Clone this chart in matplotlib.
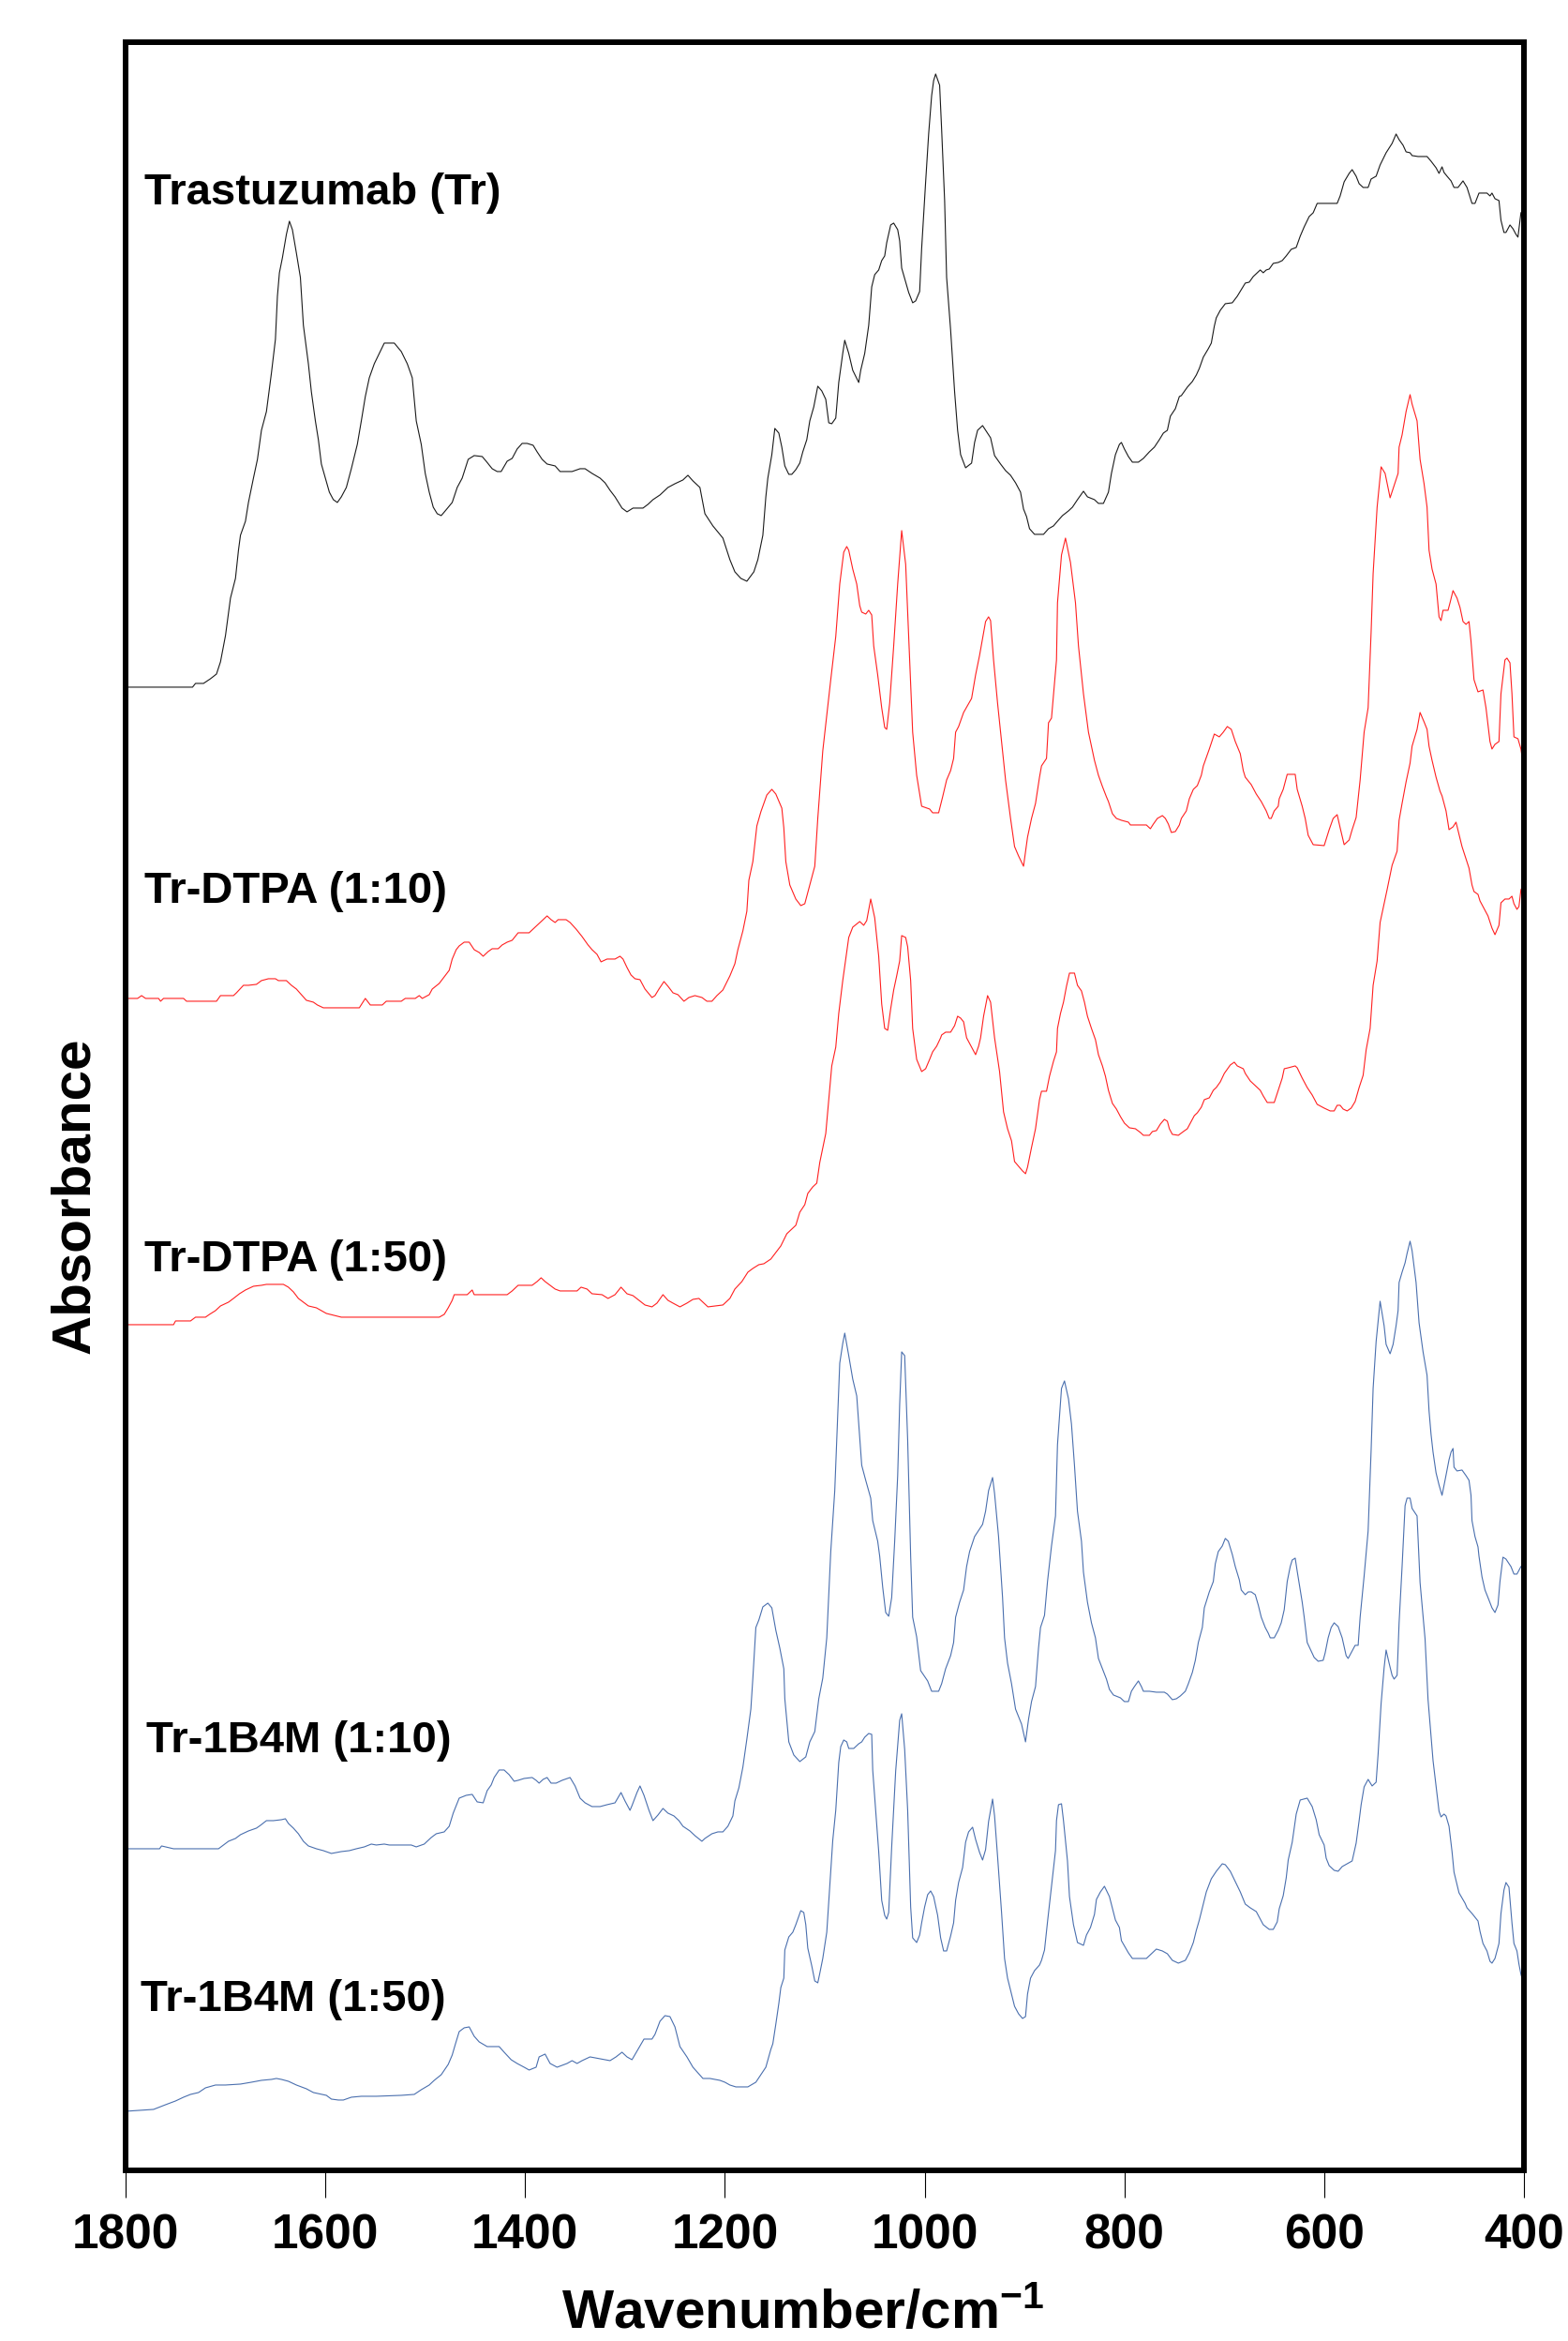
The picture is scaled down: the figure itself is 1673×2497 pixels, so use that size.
import numpy as np
import matplotlib.pyplot as plt

plt.rcParams["font.family"] = ["Liberation Sans", "DejaVu Sans"]
plt.rcParams["font.weight"] = "bold"
plt.rcParams["mathtext.fontset"] = "custom"
plt.rcParams["mathtext.rm"] = "Liberation Sans:bold"
plt.rcParams["mathtext.bf"] = "Liberation Sans:bold"
plt.rcParams["mathtext.default"] = "bf"

# FTIR spectra, (wavenumber cm-1, absorbance a.u. above own baseline)
tr = [(1800,0),(1733,0),(1730,0.04),(1722,0.04),(1715,0.09),(1709,0.14),(1705,0.27),(1700,0.55),(1695,0.95),(1690,1.16),
      (1687,1.46),(1685,1.62),(1680,1.77),(1677,1.97),(1672,2.23),(1668,2.43),(1664,2.74),(1659,2.94),(1654,3.35),(1650,3.71),
      (1648,4.17),(1646,4.42),(1643,4.58),(1639,4.83),(1636,4.97),(1633,4.88),(1629,4.63),(1625,4.37),(1622,3.86),(1617,3.45),
      (1614,3.15),(1610,2.84),(1607,2.64),(1604,2.38),(1600,2.23),(1596,2.08),(1592,2.00),(1588,1.97),(1584,2.03),(1579,2.13),
      (1574,2.33),(1568,2.59),(1564,2.84),(1560,3.10),(1556,3.30),(1551,3.45),(1546,3.56),(1541,3.67),(1531,3.67),(1524,3.58),
      (1518,3.45),(1513,3.30),(1509,2.84),(1504,2.59),(1500,2.28),(1496,2.08),(1492,1.92),(1488,1.85),(1484,1.83),(1480,1.88),
      (1473,1.97),(1468,2.13),(1463,2.23),(1457,2.43),(1451,2.47),(1443,2.46),(1439,2.41),(1433,2.33),(1428,2.30),(1424,2.30),
      (1418,2.41),(1413,2.44),(1408,2.54),(1403,2.60),(1398,2.60),(1392,2.58),(1388,2.51),(1383,2.43),(1378,2.38),(1370,2.36),
      (1365,2.30),(1353,2.30),(1345,2.33),(1340,2.33),(1333,2.28),(1325,2.23),(1320,2.18),(1315,2.10),(1310,2.03),(1303,1.91),
      (1298,1.87),(1292,1.91),(1282,1.91),(1277,1.95),(1272,2.00),(1265,2.05),(1257,2.13),(1250,2.17),(1242,2.21),(1237,2.26),
      (1232,2.20),(1225,2.13),(1220,1.85),(1212,1.72),(1202,1.59),(1195,1.36),(1190,1.23),(1184,1.16),(1178,1.13),
      (1171,1.23),(1167,1.36),(1162,1.62),(1159,2.03),(1157,2.23),(1153,2.48),(1150,2.76),(1146,2.71),(1143,2.56),(1140,2.36),
      (1136,2.27),(1133,2.27),(1129,2.32),(1125,2.39),(1122,2.51),(1118,2.64),(1115,2.84),(1111,2.99),(1107,3.21),(1103,3.16),
      (1099,3.07),(1096,2.82),(1093,2.81),(1089,2.87),(1086,3.25),(1082,3.56),(1080,3.70),(1076,3.56),(1072,3.38),(1066,3.25),
      (1064,3.38),(1060,3.56),(1056,3.86),(1053,4.27),(1050,4.40),(1046,4.45),(1043,4.55),(1040,4.60),(1038,4.74),(1034,4.93),
      (1031,4.95),(1027,4.88),(1025,4.76),(1023,4.47),(1019,4.32),(1016,4.21),(1012,4.10),(1009,4.12),(1005,4.22),(1003,4.68),
      (999,5.39),(996,5.90),(993,6.31),(991,6.47),(989,6.54),(985,6.42),(983,5.95),(980,5.19),(978,4.37),(974,3.81),
      (970,3.15),(967,2.74),(964,2.48),(959,2.34),(953,2.39),(950,2.61),(947,2.74),(942,2.79),(937,2.71),(934,2.66),
      (930,2.47),(924,2.38),(919,2.31),(914,2.26),(909,2.18),(904,2.08),(901,1.90),(898,1.82),(895,1.69),(890,1.63),
      (881,1.63),(876,1.69),(871,1.72),(867,1.77),(862,1.83),(856,1.88),(852,1.92),(847,2.00),(841,2.09),(837,2.03),
      (830,2.00),(826,1.96),(821,1.96),(816,2.08),(813,2.28),(809,2.48),(805,2.59),(803,2.61),(800,2.54),(796,2.46),
      (792,2.40),(786,2.40),(781,2.44),(775,2.51),(770,2.56),(765,2.64),(761,2.71),(757,2.74),(754,2.89),(749,2.97),
      (745,3.10),(743,3.11),(737,3.20),(732,3.26),(728,3.33),(725,3.40),(721,3.52),(716,3.61),(713,3.67),(710,3.85),
      (708,3.94),(704,4.02),(699,4.09),(692,4.10),(687,4.17),(683,4.24),(679,4.31),(675,4.32),(671,4.38),(667,4.42),
      (664,4.45),(661,4.42),(658,4.45),(655,4.46),(651,4.52),(646,4.53),(642,4.55),(638,4.60),(633,4.67),(628,4.69),
      (624,4.81),(620,4.91),(615,5.02),(611,5.06),(607,5.16),(587,5.16),(584,5.24),(580,5.39),(575,5.48),(572,5.52),
      (568,5.45),(565,5.37),(561,5.33),(556,5.33),(553,5.42),(548,5.45),(544,5.57),(538,5.70),(532,5.80),(528,5.90),
      (525,5.84),(521,5.78),(518,5.71),(514,5.70),(512,5.67),(506,5.66),(497,5.66),(493,5.61),(488,5.54),(485,5.48),
      (482,5.55),(480,5.49),(477,5.45),(473,5.40),(470,5.33),(466,5.33),(461,5.40),(457,5.33),(452,5.16),(449,5.16),
      (445,5.27),(437,5.27),(434,5.24),(432,5.27),(429,5.21),(425,5.19),(423,4.98),(420,4.85),(418,4.85),(414,4.93),
      (411,4.89),(408,4.83),(406,4.80),(403,5.06),(400,5.10)]

dtpa10 = [(1800,0),(1788,0),(1784,0.03),(1780,0),(1767,0),(1765,-0.03),(1762,0),(1742,0),(1739,-0.03),(1709,-0.03),
          (1705,0.03),(1692,0.03),(1689,0.06),(1682,0.14),(1677,0.14),(1669,0.15),(1664,0.19),(1657,0.21),(1650,0.21),(1647,0.19),
          (1639,0.19),(1634,0.14),(1629,0.10),(1624,0.04),(1619,-0.02),(1612,-0.04),(1608,-0.07),(1602,-0.10),(1566,-0.10),(1560,0),
          (1555,-0.07),(1543,-0.07),(1539,-0.03),(1524,-0.03),(1520,0),(1510,0),(1506,0.03),(1503,0),(1496,0.04),(1493,0.10),
          (1486,0.16),(1476,0.30),(1473,0.42),(1469,0.52),(1466,0.56),(1461,0.60),(1456,0.60),(1451,0.52),(1446,0.49),(1442,0.45),
          (1437,0.50),(1433,0.53),(1427,0.53),(1423,0.57),(1418,0.60),(1413,0.62),(1407,0.70),(1396,0.70),(1389,0.77),(1383,0.83),
          (1378,0.88),(1374,0.84),(1370,0.81),(1367,0.84),(1359,0.84),(1355,0.81),(1349,0.74),(1343,0.66),(1337,0.57),(1333,0.52),
          (1328,0.47),(1324,0.39),(1318,0.42),(1310,0.42),(1305,0.45),(1302,0.42),(1298,0.33),(1294,0.25),(1290,0.21),(1285,0.20),
          (1280,0.10),(1273,0.01),(1270,0.03),(1266,0.10),(1261,0.18),(1257,0.13),(1252,0.06),(1247,0.04),(1241,-0.03),(1236,0.01),
          (1230,0.03),(1223,0.01),(1218,-0.03),(1213,-0.03),(1208,0.03),(1202,0.09),(1195,0.24),(1190,0.37),(1187,0.52),(1182,0.72),
          (1178,0.93),(1176,1.26),(1172,1.46),(1168,1.84),(1164,1.99),
          (1158,2.17),(1153,2.23),(1149,2.18),(1143,2.03),(1141,1.82),(1139,1.46),(1135,1.21),(1129,1.06),(1124,0.99),(1120,1.01),
          (1117,1.13),(1110,1.41),(1107,1.92),(1102,2.64),(1094,3.40),(1089,3.86),(1085,4.42),(1081,4.76),(1078,4.82),(1076,4.78),
          (1072,4.58),(1068,4.42),(1065,4.19),(1063,4.12),(1059,4.10),(1056,4.14),(1053,4.09),(1051,3.76),(1047,3.45),(1043,3.10),
          (1040,2.89),(1038,2.87),(1035,3.15),(1031,3.76),(1027,4.42),(1023,4.99),(1019,4.63),(1016,3.86),(1012,2.84),(1008,2.38),
          (1003,2.05),(995,2.02),(992,1.98),(986,1.98),(982,2.15),(978,2.33),(974,2.43),(971,2.56),(969,2.84),(966,2.90),
          (961,3.05),(953,3.20),(949,3.45),(945,3.66),(942,3.84),(939,4.02),(936,4.07),(934,4.03),(931,3.61),(927,3.15),
          (923,2.74),(919,2.33),(914,1.92),(910,1.62),(906,1.52),(901,1.41),(897,1.72),(893,1.92),(889,2.08),(885,2.36),
          (883,2.48),(878,2.56),(876,2.94),(873,2.99),(868,3.61),(867,4.22),(863,4.73),(859,4.91),(854,4.65),(849,4.22),
          (846,3.76),(841,3.25),(836,2.84),(830,2.54),(826,2.38),(822,2.26),(818,2.15),(816,2.10),(812,1.97),(808,1.92),
          (803,1.90),(796,1.88),(794,1.85),(778,1.85),(774,1.81),(771,1.86),(767,1.92),(762,1.95),(759,1.92),(756,1.86),
          (753,1.77),(749,1.78),(745,1.85),(743,1.92),(738,2.00),(735,2.13),(731,2.23),(727,2.27),(723,2.38),(721,2.48),
          (715,2.66),(710,2.82),(705,2.79),(701,2.84),(697,2.90),(693,2.87),(689,2.74),(684,2.61),(681,2.43),(679,2.36),
          (673,2.28),(668,2.18),(663,2.10),(658,2.00),(655,1.92),(653,1.92),(650,2.00),(646,2.05),(645,2.13),(641,2.23),
          (637,2.39),(629,2.39),(627,2.23),(622,2.05),(619,1.92),(616,1.74),(611,1.64),(600,1.63),(595,1.80),(591,1.92),
          (587,1.96),(584,1.82),(580,1.64),(575,1.69),(572,1.80),(568,1.93),(564,2.33),(560,2.84),(556,3.10),(553,3.91),
          (551,4.53),(547,5.24),(543,5.67),(539,5.60),(534,5.34),(530,5.47),(526,5.60),(525,5.88),(522,6.01),(518,6.26),
          (514,6.44),(512,6.34),(507,6.16),(504,5.75),(500,5.49),(497,5.24),(495,4.78),(492,4.58),(488,4.42),(485,4.07),
          (483,4.03),(481,4.14),(476,4.14),(474,4.22),(471,4.35),(467,4.27),(464,4.17),(461,4.02),(458,3.99),(455,4.02),
          (453,3.81),(450,3.40),(446,3.27),(441,3.29),(438,3.10),(434,2.74),(432,2.66),(429,2.71),(425,2.74),(423,3.25),
          (419,3.61),(417,3.63),(414,3.58),(412,3.25),(410,2.79),(406,2.77),(403,2.66),(400,2.44)]

dtpa50 = [(1800,0),(1752,0),(1750,0.04),(1735,0.04),(1730,0.08),(1720,0.08),(1716,0.11),(1710,0.15),(1705,0.20),(1697,0.24),
          (1692,0.28),(1686,0.33),(1680,0.37),(1672,0.41),(1664,0.42),(1659,0.43),(1642,0.43),(1637,0.40),(1632,0.35),(1627,0.28),
          (1622,0.24),(1617,0.20),(1609,0.18),(1604,0.15),(1599,0.12),(1584,0.08),(1486,0.08),(1481,0.11),(1477,0.18),(1473,0.26),
          (1471,0.32),(1458,0.32),(1453,0.37),(1451,0.32),(1418,0.32),(1413,0.36),(1407,0.42),(1393,0.42),(1388,0.46),(1384,0.50),
          (1380,0.46),(1375,0.42),(1370,0.38),(1365,0.36),(1348,0.36),(1344,0.40),(1338,0.38),(1333,0.33),(1323,0.32),(1317,0.28),
          (1310,0.32),(1304,0.40),(1298,0.33),(1292,0.31),(1286,0.26),(1280,0.21),(1273,0.19),(1268,0.23),(1262,0.32),(1257,0.26),
          (1252,0.23),(1245,0.19),(1238,0.23),(1232,0.27),(1226,0.28),(1222,0.24),(1217,0.19),(1202,0.21),(1195,0.28),(1190,0.38),
          (1183,0.46),(1177,0.56),(1172,0.60),(1166,0.64),(1161,0.65),(1154,0.70),(1149,0.77),(1144,0.84),
          (1138,0.97),(1129,1.06),(1125,1.20),(1120,1.28),(1117,1.40),(1112,1.47),(1108,1.51),(1105,1.73),(1099,2.04),(1096,2.40),
          (1093,2.76),(1089,2.96),(1086,3.32),(1082,3.67),(1078,3.98),(1076,4.13),(1072,4.24),(1065,4.30),(1061,4.26),(1058,4.31),
          (1054,4.54),(1050,4.34),(1046,3.93),(1043,3.42),(1040,3.16),(1037,3.14),(1034,3.37),(1031,3.57),(1028,3.72),(1025,3.88),
          (1023,4.15),(1019,4.13),(1017,4.03),(1014,3.67),(1012,3.16),(1008,2.83),(1003,2.70),(999,2.73),(995,2.83),(992,2.91),
          (988,2.97),(984,3.06),(983,3.09),(979,3.12),(974,3.12),(970,3.19),(967,3.29),(964,3.27),(961,3.23),(958,3.06),
          (953,2.96),(949,2.88),(946,2.97),(944,3.06),(941,3.29),(937,3.51),(934,3.44),(930,3.06),(925,2.70),(921,2.27),
          (917,2.09),(913,1.96),(910,1.74),(906,1.69),(902,1.64),(899,1.61),(897,1.68),(893,1.89),(889,2.09),(885,2.40),
          (883,2.49),(878,2.49),(875,2.65),(871,2.81),(868,2.91),(867,3.16),(864,3.32),(861,3.44),(858,3.61),(855,3.75),
          (850,3.75),(847,3.62),(843,3.56),(840,3.44),(837,3.29),(833,3.16),(829,3.04),(826,2.88),(822,2.76),(819,2.65),
          (816,2.50),(812,2.36),(808,2.30),(804,2.22),(800,2.15),(795,2.10),(789,2.09),(784,2.05),(781,2.02),(775,2.02),
          (772,2.06),(768,2.07),(764,2.14),(760,2.19),(757,2.17),(755,2.09),(752,2.03),(746,2.02),(741,2.06),(737,2.09),
          (734,2.15),(730,2.23),(727,2.26),(723,2.32),(720,2.40),(715,2.42),(711,2.50),(708,2.53),(704,2.59),(700,2.68),
          (694,2.77),(690,2.80),(687,2.76),(681,2.73),(679,2.68),(674,2.60),(669,2.55),(664,2.50),(661,2.44),(657,2.37),
          (650,2.37),(646,2.50),(642,2.63),(640,2.73),(636,2.74),(629,2.76),(627,2.74),(622,2.63),(617,2.53),(612,2.45),
          (607,2.35),(600,2.31),(594,2.28),(590,2.28),(587,2.34),(584,2.34),(581,2.30),(577,2.28),(573,2.31),(569,2.38),
          (565,2.53),(561,2.66),(558,2.93),(554,3.16),(551,3.62),(547,3.88),(544,4.29),(540,4.49),(537,4.64),(532,4.90),
          (527,5.05),(525,5.38),(522,5.56),(518,5.79),(514,5.99),(512,6.17),(507,6.35),(504,6.53),(500,6.43),(497,6.35),
          (495,6.17),(492,6.02),(488,5.84),(484,5.69),(482,5.64),(478,5.48),(475,5.28),(471,5.31),(468,5.36),(465,5.23),
          (462,5.10),(458,4.97),(455,4.87),(452,4.69),(450,4.62),(446,4.59),(444,4.52),(440,4.44),(436,4.36),(432,4.23),
          (429,4.16),(425,4.26),(423,4.50),(419,4.54),(415,4.54),(412,4.57),(410,4.49),(407,4.43),(405,4.46),(403,4.64),
          (400,4.70)]

b4m10 = [(1800,0),(1766,0),(1764,0.03),(1752,0),(1707,0),(1702,0.04),(1697,0.08),(1690,0.11),(1685,0.15),(1677,0.19),
         (1669,0.22),(1665,0.25),(1659,0.30),(1652,0.30),(1644,0.31),(1640,0.32),(1637,0.27),(1632,0.22),(1627,0.16),(1622,0.08),
         (1617,0.03),(1609,0),(1602,-0.02),(1594,-0.05),(1584,-0.03),(1576,-0.02),(1569,0),(1561,0.02),(1554,0.05),(1549,0.04),
         (1541,0.05),(1536,0.04),(1514,0.04),(1509,0.02),(1501,0.05),(1494,0.12),(1489,0.16),(1481,0.18),(1476,0.24),(1472,0.38),
         (1469,0.46),(1466,0.54),(1459,0.57),(1453,0.58),(1448,0.50),(1442,0.49),(1438,0.62),(1434,0.68),(1431,0.76),(1426,0.84),
         (1421,0.84),(1416,0.79),(1411,0.72),(1407,0.73),(1401,0.75),(1393,0.76),(1389,0.73),(1386,0.70),(1382,0.74),(1378,0.76),
         (1374,0.70),(1369,0.70),(1363,0.73),(1355,0.76),(1350,0.67),(1345,0.54),(1340,0.49),(1333,0.45),(1325,0.45),(1318,0.47),
         (1310,0.49),(1304,0.60),(1300,0.51),(1295,0.41),(1293,0.46),(1288,0.60),(1285,0.67),(1281,0.57),(1276,0.41),(1272,0.30),
         (1267,0.36),(1262,0.43),(1257,0.38),(1251,0.35),(1246,0.30),(1242,0.24),(1235,0.19),(1230,0.14),(1223,0.08),(1220,0.11),
         (1213,0.16),(1207,0.18),(1202,0.18),(1197,0.24),(1192,0.35),(1190,0.51),(1186,0.65),(1182,0.87),(1178,1.17),(1174,1.49),
         (1172,1.82),(1169,2.36),(1166,2.44),(1162,2.58),
         (1157,2.62),(1153,2.57),(1149,2.33),(1145,2.14),(1141,1.92),(1140,1.60),(1136,1.14),(1131,1.00),(1125,0.93),(1119,0.98),
         (1115,1.14),(1110,1.25),(1106,1.60),(1102,1.82),(1098,2.25),(1094,3.17),(1090,3.82),(1087,4.63),(1085,5.18),(1082,5.39),
         (1080,5.50),(1076,5.26),(1072,5.01),(1068,4.83),(1066,4.53),(1063,4.09),(1059,3.93),(1054,3.74),(1052,3.50),(1047,3.28),
         (1045,3.12),(1042,2.79),(1039,2.52),(1036,2.48),(1033,2.68),(1030,3.28),(1027,3.98),(1025,4.74),(1023,5.30),(1020,5.26),
         (1017,4.36),(1014,3.12),(1012,2.47),(1008,2.26),(1004,1.90),(997,1.79),(993,1.68),(986,1.68),(983,1.76),(979,1.92),
         (974,2.06),(971,2.20),(969,2.47),(965,2.63),(961,2.76),(958,3.01),(955,3.17),(950,3.33),(945,3.41),(942,3.46),
         (939,3.60),(936,3.82),(932,3.96),(930,3.79),(926,3.33),(922,2.68),(920,2.25),(917,1.98),(913,1.76),(909,1.49),
         (903,1.33),(899,1.14),(896,1.38),(893,1.57),(889,1.73),(886,2.14),(884,2.36),(880,2.49),(877,2.85),(873,3.23),
         (869,3.55),(867,4.31),(863,4.91),(860,4.99),(856,4.80),(853,4.53),(850,4.09),(847,3.60),(843,3.28),(841,2.95),
         (837,2.63),(833,2.41),(829,2.25),(826,2.03),(822,1.92),(818,1.81),(815,1.70),(811,1.64),(804,1.61),(800,1.57),
         (796,1.57),(793,1.68),(790,1.73),(786,1.79),(783,1.73),(781,1.68),(775,1.68),(768,1.67),(760,1.67),(757,1.65),
         (752,1.59),(748,1.60),(744,1.63),(739,1.68),(736,1.76),(732,1.88),(729,2.01),(726,2.20),(722,2.36),(720,2.57),
         (715,2.74),(711,2.85),(709,3.04),(706,3.17),(702,3.23),(699,3.31),(696,3.28),(692,3.14),(689,3.01),(685,2.87),
         (683,2.76),(679,2.71),(676,2.74),(673,2.74),(669,2.71),(666,2.60),(663,2.47),(659,2.36),(656,2.30),(654,2.25),
         (650,2.25),(646,2.33),(643,2.41),(640,2.55),(637,2.85),(634,3.01),(632,3.08),(629,3.10),(627,2.96),(622,2.63),
         (620,2.47),(617,2.20),(613,2.11),(610,2.04),(606,2.00),(601,2.01),(599,2.09),(596,2.25),(593,2.36),(590,2.41),
         (586,2.37),(582,2.25),(578,2.06),(576,2.03),(572,2.11),(569,2.17),(566,2.17),(564,2.47),(560,2.91),(556,3.39),
         (553,4.25),(551,4.91),(548,5.41),(544,5.84),(540,5.58),(538,5.38),(534,5.28),(531,5.38),(528,5.58),(526,5.74),
         (525,6.04),(522,6.15),(519,6.25),(517,6.35),(514,6.48),(512,6.38),(508,6.04),(505,5.61),(501,5.30),(497,5.05),
         (495,4.67),(493,4.42),(491,4.23),(488,4.01),(485,3.88),(482,3.77),(479,3.93),(475,4.15),(473,4.23),(471,4.27),
         (470,4.07),(467,4.03),(462,4.04),(458,3.98),(455,3.93),(453,3.77),(452,3.50),(449,3.33),(446,3.22),(445,3.12),
         (442,2.90),(439,2.76),(436,2.68),(432,2.57),(429,2.52),(426,2.60),(424,2.85),(421,3.11),(418,3.09),(413,3.01),
         (410,2.93),(407,2.93),(403,3.01),(400,3.05)]

b4m50 = [(1800,0),(1772,0.02),(1760,0.07),(1750,0.11),(1742,0.15),(1735,0.18),(1727,0.20),(1720,0.25),(1710,0.28),(1700,0.28),
         (1685,0.29),(1674,0.31),(1664,0.33),(1654,0.34),(1649,0.35),(1644,0.34),(1637,0.32),(1629,0.28),(1619,0.24),(1612,0.20),
         (1599,0.17),(1594,0.13),(1587,0.12),(1582,0.12),(1574,0.15),(1564,0.16),(1549,0.16),(1524,0.17),(1511,0.18),(1504,0.23),
         (1496,0.28),(1491,0.33),(1484,0.39),(1477,0.50),(1473,0.60),(1470,0.71),(1466,0.85),(1461,0.89),(1456,0.90),(1451,0.80),
         (1446,0.74),(1438,0.69),(1426,0.69),(1421,0.63),(1414,0.55),(1408,0.51),(1401,0.47),(1396,0.44),(1389,0.47),(1386,0.58),
         (1380,0.61),(1375,0.51),(1368,0.47),(1358,0.51),(1353,0.54),(1348,0.51),(1343,0.54),(1335,0.58),(1325,0.56),(1315,0.54),
         (1309,0.58),(1303,0.63),(1298,0.58),(1293,0.55),(1287,0.66),(1281,0.77),(1273,0.77),(1270,0.82),(1265,0.96),(1260,1.02),
         (1255,1.01),(1250,0.90),(1245,0.69),(1238,0.58),(1232,0.47),(1227,0.41),(1222,0.35),(1215,0.35),(1210,0.34),(1205,0.33),
         (1200,0.31),(1195,0.28),(1189,0.26),(1177,0.26),(1169,0.31),(1164,0.39),(1159,0.47),(1154,0.66),
         (1152,0.72),(1149,0.93),(1146,1.15),(1144,1.32),(1141,1.42),(1140,1.72),(1136,1.86),(1132,1.91),(1129,1.99),(1127,2.05),
         (1124,2.14),(1121,2.12),(1119,1.99),(1117,1.74),(1113,1.55),(1110,1.39),(1107,1.37),(1105,1.47),(1102,1.63),(1098,1.91),
         (1095,2.40),(1092,2.89),(1089,3.21),(1086,3.72),(1084,3.89),(1081,3.96),(1078,3.94),(1076,3.87),(1071,3.87),(1066,3.92),
         (1063,3.94),(1060,3.99),(1056,4.03),(1053,4.02),(1052,3.64),(1049,3.20),(1046,2.77),(1043,2.25),(1040,2.09),(1038,2.05),
         (1036,2.12),(1033,2.82),(1029,3.63),(1025,4.17),(1023,4.24),(1020,3.86),(1017,3.21),(1014,2.18),(1012,1.85),(1008,1.80),
         (1005,1.88),(1003,2.01),(1000,2.18),(997,2.31),(994,2.35),(991,2.29),(987,2.09),(984,1.85),(981,1.71),(978,1.71),
         (974,1.87),(971,2.01),(969,2.25),(966,2.44),(962,2.60),(959,2.87),(956,2.98),(952,3.03),(949,2.90),(945,2.76),
         (942,2.68),(939,2.79),(936,3.09),(932,3.33),(930,3.15),(927,2.72),(923,2.12),(920,1.63),(917,1.42),(913,1.25),
         (910,1.12),(906,1.04),(902,0.99),(899,1.01),(897,1.25),(894,1.42),(890,1.50),(885,1.56),(883,1.61),(880,1.72),
         (877,2.02),(873,2.40),(869,2.78),(868,3.10),(866,3.27),(863,3.28),(861,3.10),(857,2.67),(855,2.29),(851,1.99),
         (847,1.80),(841,1.77),(838,1.88),(834,1.96),(830,2.10),(828,2.26),(824,2.34),(820,2.40),(815,2.29),(809,2.04),
         (805,1.96),(803,1.82),(796,1.69),(792,1.63),(778,1.63),(773,1.68),(768,1.73),(762,1.71),(757,1.68),(752,1.61),
         (746,1.58),(739,1.61),(735,1.69),(731,1.80),(728,1.93),(725,2.04),(722,2.17),(718,2.34),(713,2.48),(708,2.56),
         (702,2.64),(699,2.63),(694,2.56),(689,2.45),(684,2.34),(679,2.21),(674,2.17),(668,2.13),(664,2.05),(661,1.99),
         (655,1.94),(651,1.94),(647,2.02),(645,2.16),(641,2.30),(638,2.49),(636,2.68),(632,2.87),(628,3.17),(624,3.32),
         (617,3.34),(612,3.25),(608,3.11),(605,2.95),(600,2.84),(598,2.70),(595,2.62),(590,2.57),(586,2.56),(582,2.61),
         (577,2.64),(572,2.67),(568,2.86),(565,3.10),(563,3.27),(560,3.46),(556,3.54),(552,3.47),(548,3.51),(546,3.81),
         (543,4.35),(540,4.73),(538,4.92),(535,4.78),(532,4.65),(530,4.61),(527,4.65),(525,5.21),(522,5.81),(519,6.46),
         (517,6.54),(514,6.54),(512,6.43),(507,6.35),(504,5.64),(499,5.04),(496,4.39),(491,3.74),(488,3.47),(485,3.20),
         (483,3.14),(480,3.17),(478,3.15),(475,3.04),(472,2.77),(470,2.55),(465,2.33),(459,2.22),(457,2.17),(452,2.11),
         (446,2.03),(444,1.92),(441,1.79),(437,1.71),(434,1.60),(432,1.58),(429,1.63),(425,1.79),(423,2.11),(420,2.36),
         (418,2.44),(415,2.39),(412,2.01),(410,1.79),(407,1.71),(405,1.57),(403,1.46),(400,1.35)]

spectra = [tr, dtpa10, dtpa50, b4m10, b4m50]
names = ["Trastuzumab (Tr)", "Tr-DTPA (1:10)", "Tr-DTPA (1:50)", "Tr-1B4M (1:10)", "Tr-1B4M (1:50)"]
offsets = [15.82, 12.50, 9.02, 3.43, 0.63]
colors = ["#1a1a1a", "#ff2020", "#ff2020", "#4a6fae", "#4a6fae"]
name_pos = [(1781, 20.97), (1781, 13.52), (1781, 9.59), (1779, 4.46), (1785, 1.70)]
xticks = [1800, 1600, 1400, 1200, 1000, 800, 600, 400]

fig = plt.figure(figsize=(16.73, 24.97), dpi=100)
ax = fig.add_axes([0.0801, 0.0729, 0.8918, 0.9091])

for pts, off, col in zip(spectra, offsets, colors):
    w, a = np.array(pts, dtype=float).T
    ax.plot(w, a + off, color=col, lw=0.8)

for name, (x, y) in zip(names, name_pos):
    ax.text(x, y, name, fontsize=34, fontweight="bold", ha="left", va="baseline")

ax.set_xlim(1800, 400)
ax.set_ylim(0, 22.70)
ax.set_xticks(xticks)
ax.set_yticks([])
ax.tick_params(axis="x", direction="out", length=21, width=0.8, pad=12, labelsize=37)
for s in ax.spines.values():
    s.set_linewidth(4.3)

fig.text(0.0478, 0.4894, "Absorbance", rotation=90, ha="center", va="center",
         fontsize=42, fontweight="bold")
fig.text(0.5122, 0.0055, r"Wavenumber/cm$^{-1}$", ha="center", va="baseline",
         fontsize=42, fontweight="bold")

fig.savefig("out.png", dpi=100)
